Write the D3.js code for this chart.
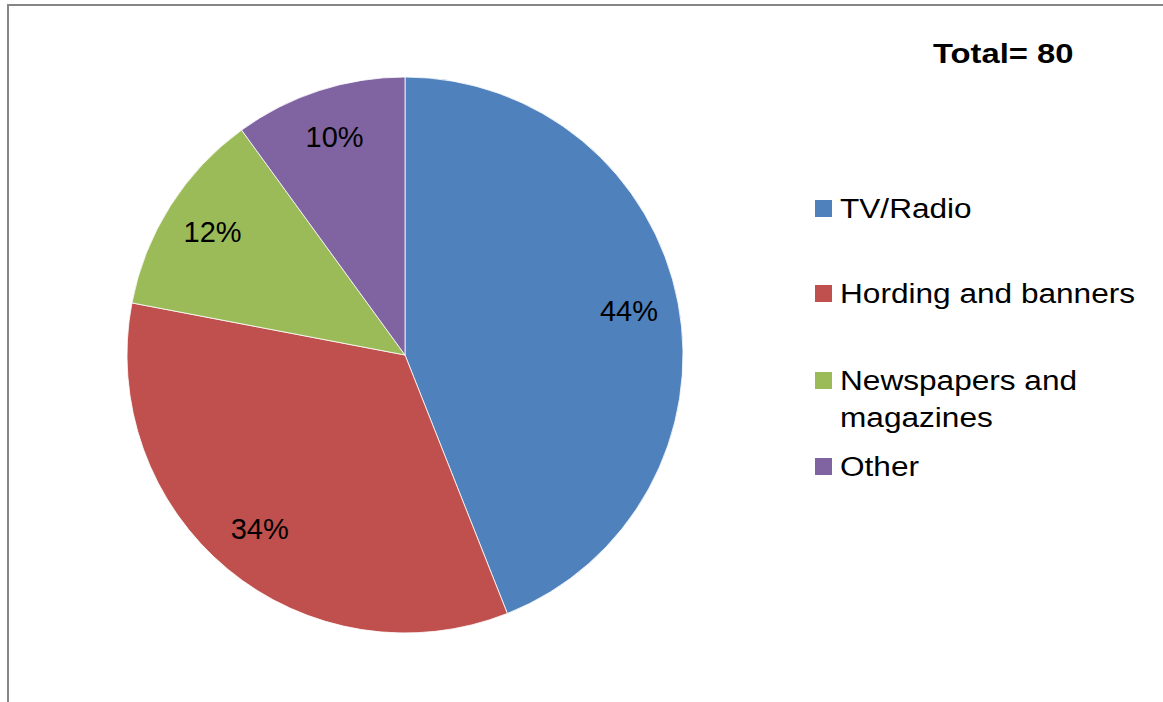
<!DOCTYPE html>
<html>
<head>
<meta charset="utf-8">
<script src="https://cdn.jsdelivr.net/npm/d3@7"></script>
<style>
  html, body { margin: 0; padding: 0; background: #fff; }
  svg { display: block; }
  text { font-family: "Liberation Sans", Arial, sans-serif; fill: #000; }
</style>
</head>
<body>
<svg id="chart" width="1163" height="702"></svg>
<script>
// Advertising channels (share of respondents, %)
const categories = ["TV/Radio", "Hording and banners", "Newspapers and magazines", "Other"];
const shares = [44, 34, 12, 10];
const colors = ["#4F81BD", "#C0504D", "#9BBB59", "#8064A2"];
const totalLabel = "Total= 80";

const svg = d3.select("#chart");
const W = 1163, H = 702;

// chart frame (top and left edges visible)
svg.append("line").attr("x1", 7).attr("y1", 5).attr("x2", W).attr("y2", 5)
  .attr("stroke", "#868686").attr("stroke-width", 2);
svg.append("line").attr("x1", 8).attr("y1", 4).attr("x2", 8).attr("y2", H)
  .attr("stroke", "#868686").attr("stroke-width", 2);

const cx = 405, cy = 355, r = 278;

const pie = d3.pie().sort(null).value(d => d)(shares);
const arc = d3.arc().innerRadius(0).outerRadius(r);
const labelArc = d3.arc().innerRadius(r * 0.82).outerRadius(r * 0.82);

const g = svg.append("g").attr("transform", `translate(${cx},${cy})`);
g.selectAll("path.slice").data(pie).join("path")
  .attr("class", "slice")
  .attr("d", arc)
  .attr("fill", (d, i) => colors[i])
  .attr("stroke", "#ffffff")
  .attr("stroke-width", 0.8);

g.selectAll("text.pct").data(pie).join("text")
  .attr("class", "pct")
  .attr("transform", d => `translate(${labelArc.centroid(d)})`)
  .attr("text-anchor", "middle")
  .attr("dy", "0.3em")
  .attr("font-size", 29)
  .text(d => d.data + "%");

// horizontally widened text, as in the legend and title
function widen(sel, k) {
  sel.each(function () {
    const w = this.getComputedTextLength();
    d3.select(this).attr("textLength", w * k).attr("lengthAdjust", "spacingAndGlyphs");
  });
}

// title
const title = svg.append("text")
  .attr("x", 933).attr("y", 63)
  .attr("font-size", 28).attr("font-weight", "bold")
  .text(totalLabel);
widen(title, 1.17);

// legend
const legendLines = [["TV/Radio"], ["Hording and banners"], ["Newspapers and", "magazines"], ["Other"]];
const baselines = [218, 303, 390, 476];
const lineGap = 37;
const lg = svg.append("g");
categories.forEach((c, i) => {
  const b = baselines[i];
  lg.append("rect")
    .attr("x", 815).attr("y", b - 18)
    .attr("width", 17).attr("height", 17)
    .attr("fill", colors[i]);
  legendLines[i].forEach((t, j) => {
    const tx = lg.append("text")
      .attr("x", 840).attr("y", b + j * lineGap)
      .attr("font-size", 27)
      .text(t);
    widen(tx, 1.17);
  });
});
</script>
</body>
</html>
